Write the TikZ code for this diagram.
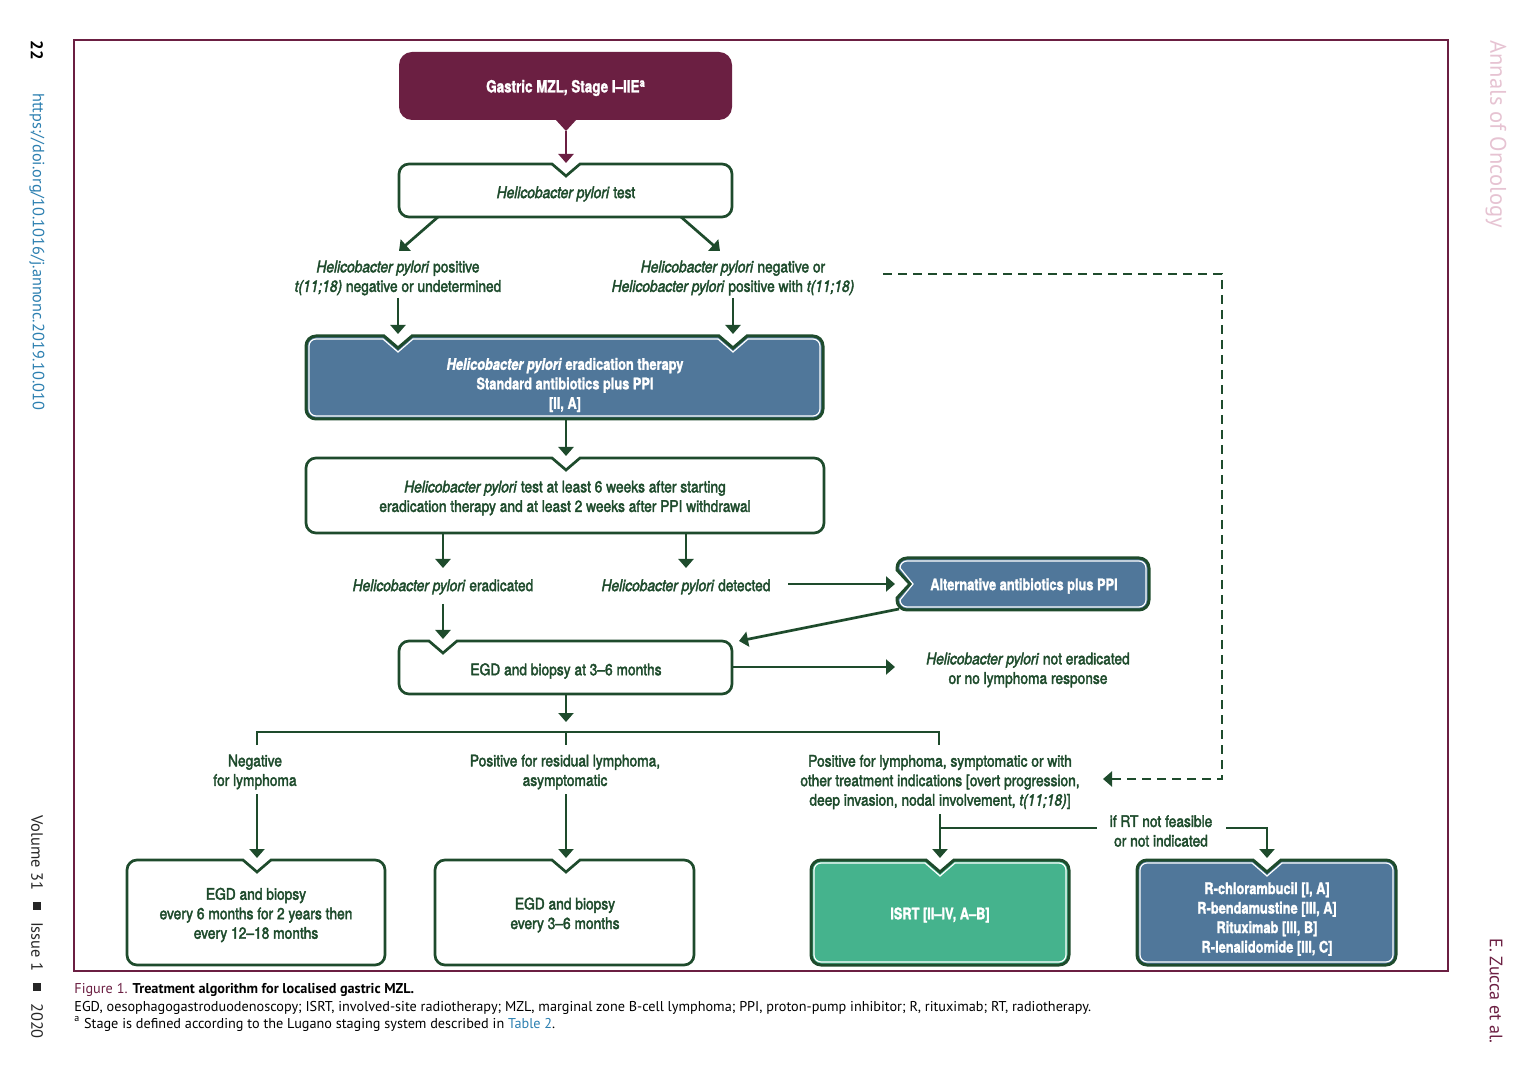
\documentclass[tikz,border=0pt]{standalone}
\usepackage{fontspec}
\setmainfont{TeX Gyre Heros}[FakeStretch=0.86]
\newfontfamily\gf{texgyreheros-regular.otf}[FakeStretch=0.86,FakeBold=2.4,ItalicFont=texgyreheros-italic.otf]
\newfontfamily\wf{texgyreheros-bold.otf}[FakeStretch=0.8,FakeBold=1.5,ItalicFont=texgyreheros-bolditalic.otf]
\newfontfamily\capf{PT Sans}
\usetikzlibrary{arrows.meta}
\definecolor{dkg}{HTML}{1E4B2C}
\definecolor{mar}{HTML}{6B1F42}
\definecolor{bluef}{HTML}{50779A}
\definecolor{greenf}{HTML}{45B38D}
\definecolor{pinkt}{HTML}{E6C3D2}
\definecolor{linkb}{HTML}{2C7FB0}
\newcommand\hp{\textit{Helicobacter pylori}}
\def\nw{14}\def\nd{12}
% #1 style #2 x1 #3 y1 #4 x2 #5 y2 #6 radius #7 list of notch x
\newcommand\nbox[7]{%
  \path[#1] (#2,#3+#6) arc[start angle=180,end angle=270,radius=#6]
    \foreach \nx in {#7}{ -- (\nx-\nw,#3) -- (\nx,#3+\nd) -- (\nx+\nw,#3)}
    -- (#4-#6,#3) arc[start angle=270,end angle=360,radius=#6]
    -- (#4,#5-#6) arc[start angle=0,end angle=90,radius=#6]
    -- (#2+#6,#5) arc[start angle=90,end angle=180,radius=#6] -- cycle;}
\newcommand\sqr{\raisebox{0.8pt}{\rule{4pt}{4pt}}}
\begin{document}
\begin{tikzpicture}[x=0.5pt,y=-0.5pt,
  arr/.style={draw=dkg, line width=1.35pt, -{Triangle[width=7.5pt,length=4.5pt]}},
  marr/.style={draw=mar, line width=1.35pt, -{Triangle[width=7.5pt,length=4.5pt]}},
  ln/.style={draw=dkg, line width=1.35pt},
  dsh/.style={draw=dkg, line width=1.25pt, dash pattern=on 4.5pt off 3pt, -{Triangle[width=7.5pt,length=4.5pt]}},
  txt/.style={text=dkg, align=center, font=\gf\fontsize{8}{9.75}\selectfont, inner sep=0pt, yshift=-1pt},
  wtxt/.style={text=white, align=center, font=\wf\fontsize{8}{9.75}\selectfont, inner sep=0pt, yshift=-1pt},
  wb/.style={fill=white, draw=dkg, line width=1.35pt},
  cb/.style={draw=dkg, line width=1.5pt},
  inl/.style={draw=white, line width=0.6pt},
  side/.style={rotate=-90, anchor=west, inner sep=0pt},
  capt/.style={anchor=base west, inner sep=0pt, font=\capf\fontsize{7.12}{8}\selectfont}
]
\useasboundingbox (0,0) rectangle (1537,1074);
\draw[mar, line width=1pt] (74,40) rectangle (1448,971);

% top box
\fill[mar, rounded corners=6.5pt] (399,52) rectangle (732,120);
\fill[mar] (555,119) -- (566,131) -- (577,119) -- cycle;

% boxes
\nbox{wb}{399}{164}{732}{217}{10}{566}
\nbox{fill=bluef,cb}{306}{336}{823}{419}{10}{398,733}
\nbox{wb}{306}{458}{824}{533}{10}{566}
\nbox{wb}{399}{641}{732}{694}{10}{443}
\nbox{wb}{127}{860}{385}{965}{10}{257}
\nbox{wb}{435}{860}{694}{965}{10}{566}
\nbox{fill=greenf,cb}{811}{860}{1069}{965}{10}{940}
\nbox{fill=bluef,cb}{1137}{860}{1396}{965}{10}{1267}
\path[fill=bluef,cb] (897,568) arc[start angle=180,end angle=270,radius=10] -- (1139,558) arc[start angle=270,end angle=360,radius=10] -- (1149,600) arc[start angle=0,end angle=90,radius=10] -- (907,610) arc[start angle=90,end angle=180,radius=10] -- (897,598) -- (910,584) -- (897,570) -- cycle;
\def\nw{15}\def\nd{13}
\nbox{inl}{309}{339}{820}{416}{7}{398,733}
\nbox{inl}{814}{863}{1066}{962}{7}{940}
\nbox{inl}{1140}{863}{1393}{962}{7}{1267}
\path[inl] (900,568) arc[start angle=180,end angle=270,radius=7] -- (1139,561) arc[start angle=270,end angle=360,radius=7] -- (1146,600) arc[start angle=0,end angle=90,radius=7] -- (907,607) arc[start angle=90,end angle=180,radius=7] -- (913,584) -- cycle;

% texts
\node[wtxt, font=\wf\fontsize{8.4}{10}\selectfont] (mzl) at (566,86) {Gastric MZL, Stage I–IIE\textsuperscript{a}};
\node[txt] (hpt) at (566,192) {\hp{} test};
\node[txt] (lp) at (398,276) {\hp{} positive\\\textit{t(11;18)} negative or undetermined};
\node[txt] (rp) at (733,276) {\hp{} negative or\\\hp{} positive with \textit{t(11;18)}};
\node[wtxt] (erad) at (565,383) {\hp{} eradication therapy\\Standard antibiotics plus PPI\\{[}II, A{]}};
\node[txt] (test6) at (565,496) {\hp{} test at least 6 weeks after starting\\eradication therapy and at least 2 weeks after PPI withdrawal};
\node[txt] (erd) at (443,585) {\hp{} eradicated};
\node[txt] (det) at (686,585) {\hp{} detected};
\node[wtxt] (alt) at (1024,584) {Alternative antibiotics plus PPI};
\node[txt] (egd) at (566,669) {EGD and biopsy at 3–6 months};
\node[txt] (noer) at (1028,668) {\hp{} not eradicated\\or no lymphoma response};
\node[txt] (neg) at (255,770) {Negative\\for lymphoma};
\node[txt] (res) at (565,770) {Positive for residual lymphoma,\\asymptomatic};
\node[txt] (sym) at (940,780) {Positive for lymphoma, symptomatic or with\\other treatment indications [overt progression,\\deep invasion, nodal involvement, \textit{t(11;18)}]};
\node[txt] (ifrt) at (1161,829) {if RT not feasible\\or not indicated};
\node[txt] (negb) at (256,913) {EGD and biopsy\\every 6 months for 2 years then\\every 12–18 months};
\node[txt] (resb) at (565,913) {EGD and biopsy\\every 3–6 months};
\node[wtxt] (isrt) at (940,913) {ISRT [II–IV, A–B]};
\node[wtxt] (rb) at (1267,917) {R-chlorambucil [I, A]\\R-bendamustine [III, A]\\Rituximab [III, B]\\R-lenalidomide [III, C]};

% connector points
\coordinate (mzlP) at (566,131); \coordinate (hptT) at (566,163);
\coordinate (hptL) at (438,217); \coordinate (lpT) at (399,251);
\coordinate (hptR) at (681,217); \coordinate (rpT) at (720,251);
\coordinate (lpB) at (398,298); \coordinate (eradL) at (398,334);
\coordinate (rpB) at (733,298); \coordinate (eradR) at (733,334);
\coordinate (eradB) at (566,419); \coordinate (t6T) at (566,456);
\coordinate (t6L) at (443,533); \coordinate (erdT) at (443,568);
\coordinate (t6R) at (686,533); \coordinate (detT) at (686,568);
\coordinate (detR) at (788,584); \coordinate (altL) at (895,584);
\coordinate (altBL) at (899,609); \coordinate (egdTR) at (739,641);
\coordinate (erdB) at (443,604); \coordinate (egdT) at (443,639);
\coordinate (egdR) at (732,667); \coordinate (noerL) at (895,667);
\coordinate (egdB) at (566,694); \coordinate (busT) at (566,722);
\coordinate (busL) at (257,732); \coordinate (busM) at (566,732); \coordinate (busR) at (939,732);
\coordinate (negT) at (257,745); \coordinate (resT) at (566,745); \coordinate (symT) at (939,745);
\coordinate (negB) at (257,794); \coordinate (negbT) at (257,858);
\coordinate (resB) at (566,794); \coordinate (resbT) at (566,858);
\coordinate (symB) at (940,814); \coordinate (isrtT) at (940,858);
\coordinate (brJ) at (940,828); \coordinate (ifL) at (1097,828);
\coordinate (ifR) at (1226,828); \coordinate (rbC) at (1267,828); \coordinate (rbT) at (1267,858);
\coordinate (dS) at (883,274); \coordinate (dC1) at (1222,274); \coordinate (dC2) at (1222,779); \coordinate (dE) at (1103,779);

% connectors
\draw[marr] (mzlP) -- (hptT);
\draw[arr] (hptL) -- (lpT);
\draw[arr] (hptR) -- (rpT);
\draw[arr] (lpB) -- (eradL);
\draw[arr] (rpB) -- (eradR);
\draw[arr] (eradB) -- (t6T);
\draw[arr] (t6L) -- (erdT);
\draw[arr] (t6R) -- (detT);
\draw[arr] (detR) -- (altL);
\draw[arr] (altBL) -- (egdTR);
\draw[arr] (erdB) -- (egdT);
\draw[arr] (egdR) -- (noerL);
\draw[arr] (egdB) -- (busT);
\draw[ln] (negT) -- (busL) -- (busR) -- (symT);
\draw[ln] (busM) -- (resT);
\draw[arr] (negB) -- (negbT);
\draw[arr] (resB) -- (resbT);
\draw[arr] (symB) -- (isrtT);
\draw[ln] (brJ) -- (ifL);
\draw[arr] (ifR) -- (rbC) -- (rbT);
\draw[dsh] (dS) -- (dC1) -- (dC2) -- (dE);

% caption
\node[capt] (cap1) at (74,993) {\textcolor{mar}{Figure 1.} \textbf{Treatment algorithm for localised gastric MZL.}};
\node[capt] (cap2) at (74,1011) {EGD, oesophagogastroduodenoscopy; ISRT, involved-site radiotherapy; MZL, marginal zone B-cell lymphoma; PPI, proton-pump inhibitor; R, rituximab; RT, radiotherapy.};
\node[capt] (cap3) at (74,1028) {\textsuperscript{a} Stage is defined according to the Lugano staging system described in \textcolor{linkb}{Table 2}.};

% side texts
\node[side, font=\capf\bfseries\fontsize{8.5}{9}\selectfont] (pg) at (37,40) {22};
\node[side, text=linkb, font=\capf\fontsize{8.15}{9}\selectfont] (doi) at (37,93) {https://doi.org/10.1016/j.annonc.2019.10.010};
\node[side, text=black!85, font=\capf\fontsize{8.2}{9}\selectfont] (vol) at (37,815) {Volume 31\hspace{6pt}\sqr\hspace{6pt}Issue 1\hspace{6pt}\sqr\hspace{6pt}2020};
\node[side, text=pinkt, font=\capf\fontsize{11.3}{12}\selectfont] (jn) at (1496,40) {Annals of Oncology};
\node[side, text=mar, font=\capf\fontsize{9}{10}\selectfont] (auth) at (1496,938) {E. Zucca et al.};
\end{tikzpicture}
\end{document}
